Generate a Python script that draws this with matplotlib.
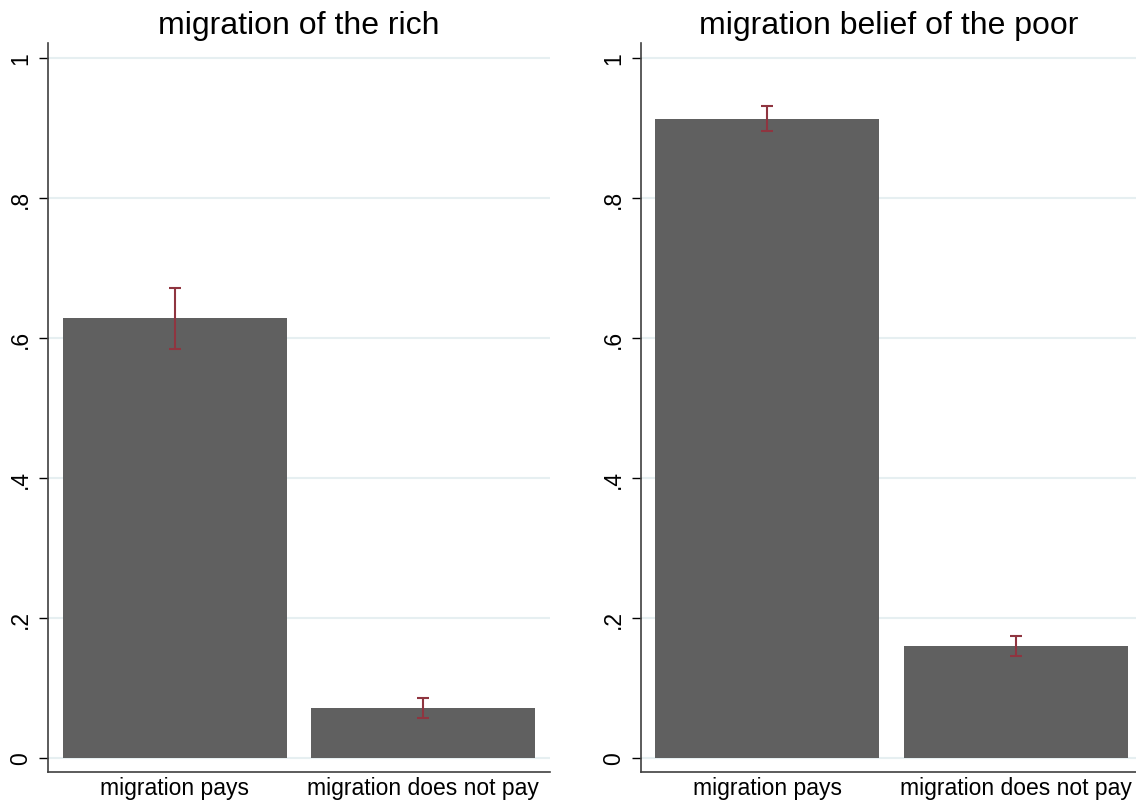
import numpy as np
import matplotlib.pyplot as plt

plt.rcParams['font.family'] = ['Liberation Sans', 'DejaVu Sans']

categories = ["migration pays", "migration does not pay"]
panel_titles = ["migration of the rich", "migration belief of the poor"]

# share of respondents and 95% confidence bounds
rich_mean = [0.629, 0.071]
rich_lo = [0.584, 0.057]
rich_hi = [0.671, 0.086]

poor_mean = [0.913, 0.160]
poor_lo = [0.896, 0.146]
poor_hi = [0.932, 0.174]

yticks = [0, 0.2, 0.4, 0.6, 0.8, 1.0]
ytick_labels = ["0", ".2", ".4", ".6", ".8", "1"]

BAR_COLOR = "#606060"
CI_COLOR = "#8f3540"
GRID_COLOR = "#e6eff1"


def draw_panel(ax, title, mean, lo, hi, xlim):
    x = np.arange(len(categories))
    mean = np.array(mean)
    err = np.vstack([mean - np.array(lo), np.array(hi) - mean])
    ax.bar(x, mean, width=0.903, color=BAR_COLOR, zorder=2)
    ax.errorbar(x, mean, yerr=err, fmt="none", ecolor=CI_COLOR,
                elinewidth=1.5, capsize=4.5, capthick=1.5, zorder=3)

    ax.set_xlim(*xlim)
    ax.set_ylim(-0.02, 1.0214)
    ax.set_yticks(yticks)
    ax.set_yticklabels(ytick_labels, rotation=90, va="center")
    ax.set_xticks(x)
    ax.set_xticklabels(categories)
    ax.tick_params(axis="y", length=6.5, width=1, pad=5, labelsize=16.5)
    ax.tick_params(axis="x", length=0, pad=3, labelsize=16.5)

    for v in yticks:
        ax.axhline(v, color=GRID_COLOR, lw=1.5, zorder=1)

    for side in ["top", "right"]:
        ax.spines[side].set_visible(False)
    for side in ["left", "bottom"]:
        ax.spines[side].set_color("#404040")
        ax.spines[side].set_linewidth(1.2)

    ax.set_title(title, fontsize=23, pad=7)


fig = plt.figure(figsize=(11.36, 8.03), dpi=100)
ax1 = fig.add_axes([0.04225, 0.03736, 0.4419, 0.9078])
ax2 = fig.add_axes([0.5643, 0.03736, 0.4357, 0.9078])

draw_panel(ax1, panel_titles[0], rich_mean, rich_lo, rich_hi, (-0.512, 1.512))
draw_panel(ax2, panel_titles[1], poor_mean, poor_lo, poor_hi, (-0.506, 1.482))

fig.savefig("out.png", dpi=100)
